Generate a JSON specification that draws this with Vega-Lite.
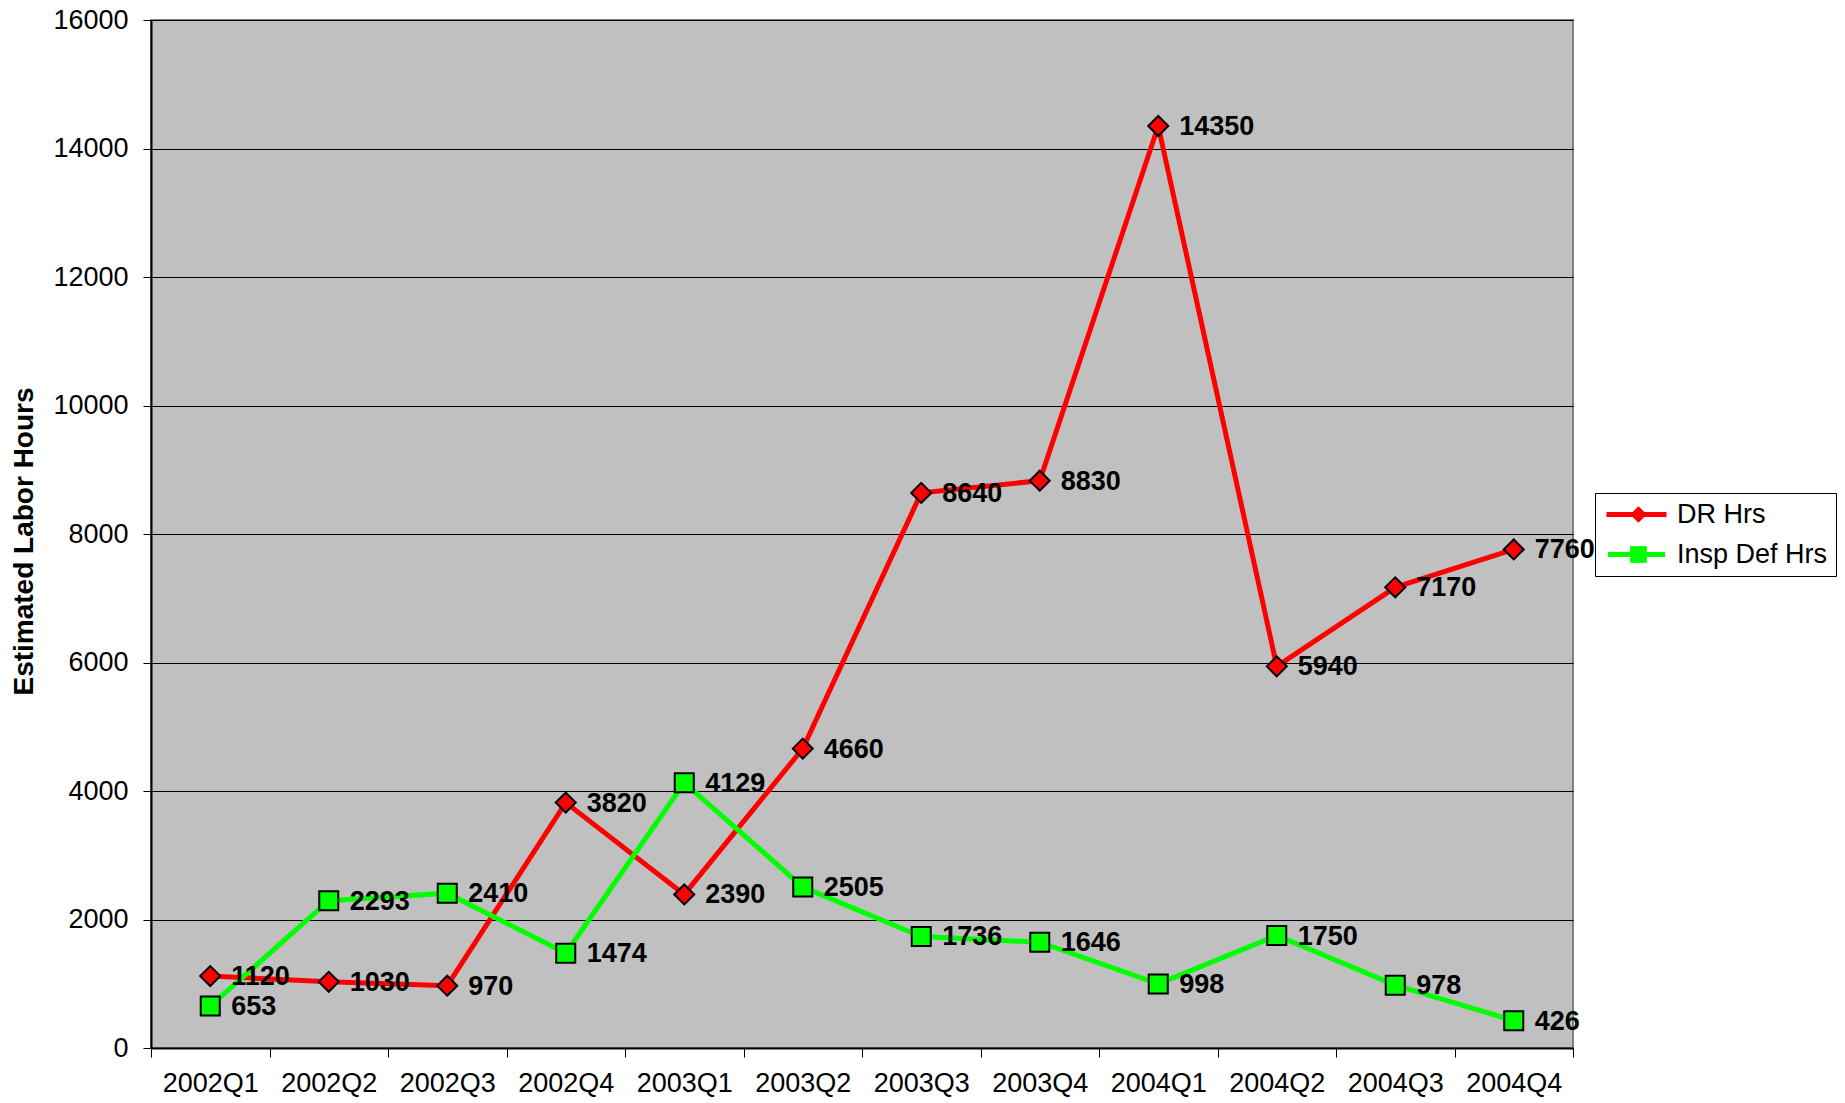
{
  "$schema": "https://vega.github.io/schema/vega-lite/v6.json",
  "width": 1422,
  "height": 1028,
  "autosize": {"type": "none"},
  "padding": {"left": 151, "top": 20, "right": 272, "bottom": 55},
  "background": "white",
  "config": {
    "font": "Liberation Sans",
    "view": {"fill": "#C0C0C0", "stroke": "#808080", "strokeWidth": 2}
  },
  "data": {
    "values": [
      {"quarter": "2002Q1", "series": "DR Hrs", "value": 1120},
      {"quarter": "2002Q2", "series": "DR Hrs", "value": 1030},
      {"quarter": "2002Q3", "series": "DR Hrs", "value": 970},
      {"quarter": "2002Q4", "series": "DR Hrs", "value": 3820},
      {"quarter": "2003Q1", "series": "DR Hrs", "value": 2390},
      {"quarter": "2003Q2", "series": "DR Hrs", "value": 4660},
      {"quarter": "2003Q3", "series": "DR Hrs", "value": 8640},
      {"quarter": "2003Q4", "series": "DR Hrs", "value": 8830},
      {"quarter": "2004Q1", "series": "DR Hrs", "value": 14350},
      {"quarter": "2004Q2", "series": "DR Hrs", "value": 5940},
      {"quarter": "2004Q3", "series": "DR Hrs", "value": 7170},
      {"quarter": "2004Q4", "series": "DR Hrs", "value": 7760},
      {"quarter": "2002Q1", "series": "Insp Def Hrs", "value": 653},
      {"quarter": "2002Q2", "series": "Insp Def Hrs", "value": 2293},
      {"quarter": "2002Q3", "series": "Insp Def Hrs", "value": 2410},
      {"quarter": "2002Q4", "series": "Insp Def Hrs", "value": 1474},
      {"quarter": "2003Q1", "series": "Insp Def Hrs", "value": 4129},
      {"quarter": "2003Q2", "series": "Insp Def Hrs", "value": 2505},
      {"quarter": "2003Q3", "series": "Insp Def Hrs", "value": 1736},
      {"quarter": "2003Q4", "series": "Insp Def Hrs", "value": 1646},
      {"quarter": "2004Q1", "series": "Insp Def Hrs", "value": 998},
      {"quarter": "2004Q2", "series": "Insp Def Hrs", "value": 1750},
      {"quarter": "2004Q3", "series": "Insp Def Hrs", "value": 978},
      {"quarter": "2004Q4", "series": "Insp Def Hrs", "value": 426}
    ]
  },
  "encoding": {
    "x": {
      "field": "quarter", "type": "ordinal", "bandPosition": 0.5,
      "scale": {"type": "band", "paddingInner": 0, "paddingOuter": 0},
      "axis": {
        "title": null, "labelAngle": 0, "tickBand": "extent",
        "labelFontSize": 27, "labelColor": "black", "labelPadding": 13,
        "tickSize": 9, "tickColor": "black", "domainColor": "black", "domainWidth": 2,
        "grid": false
      }
    },
    "y": {
      "field": "value", "type": "quantitative",
      "scale": {"domain": [0, 16000], "nice": false},
      "axis": {
        "title": "Estimated Labor Hours", "titleFontSize": 28, "titleFontWeight": "bold", "titleColor": "black",
        "titleAngle": -90, "titleX": -127, "titleY": 521, "titleAlign": "center", "titleBaseline": "middle",
        "values": [0, 2000, 4000, 6000, 8000, 10000, 12000, 14000, 16000], "format": "d",
        "labelFontSize": 27, "labelColor": "black", "labelPadding": 15,
        "tickSize": 8, "tickColor": "black", "domainColor": "black", "domainWidth": 2,
        "grid": true, "gridColor": "black", "gridWidth": 1, "gridOpacity": 1
      }
    }
  },
  "layer": [
    {
      "mark": {"type": "line", "strokeWidth": 5},
      "encoding": {
        "stroke": {
          "field": "series", "type": "nominal",
          "scale": {"domain": ["DR Hrs", "Insp Def Hrs"], "range": ["#FF0000", "#00FF00"]},
          "legend": {
            "title": null, "orient": "none", "legendX": 1444, "legendY": 473, "zindex": 1,
            "symbolType": "M-3,0L3,0", "symbolSize": 415, "symbolStrokeWidth": 5,
            "symbolOffset": 20, "labelOffset": 27, "padding": 8, "rowPadding": 12,
            "labelFontSize": 27, "labelColor": "black", "labelFont": "Liberation Sans",
            "strokeColor": "black", "fillColor": "white"
          }
        }
      }
    },
    {
      "mark": {"type": "point", "filled": true, "stroke": "black", "strokeWidth": 2, "opacity": 1},
      "encoding": {
        "fill": {
          "field": "series", "type": "nominal",
          "scale": {"domain": ["DR Hrs", "Insp Def Hrs"], "range": ["#FF0000", "#00FF00"]},
          "legend": {
            "title": null, "orient": "right", "offset": -429, "zindex": 2,
            "symbolSize": 280, "symbolStrokeColor": "black", "symbolStrokeWidth": 2,
            "symbolOffset": 0, "labelOffset": 0, "padding": 481, "rowPadding": 12,
            "labelFontSize": 27, "labelExpr": "''", "labelFont": "Liberation Sans",
            "symbolOpacity": 1
          }
        },
        "shape": {
          "field": "series", "type": "nominal",
          "scale": {"domain": ["DR Hrs", "Insp Def Hrs"], "range": ["diamond", "square"]},
          "legend": {
            "title": null, "orient": "right", "offset": -429, "zindex": 2,
            "symbolSize": 280, "symbolStrokeColor": "black", "symbolStrokeWidth": 2,
            "symbolOffset": 0, "labelOffset": 0, "padding": 481, "rowPadding": 12,
            "labelFontSize": 27, "labelExpr": "''", "labelFont": "Liberation Sans",
            "symbolOpacity": 1
          }
        },
        "size": {
          "field": "series", "type": "nominal",
          "scale": {"domain": ["DR Hrs", "Insp Def Hrs"], "range": [400, 361]},
          "legend": null
        }
      }
    },
    {
      "mark": {"type": "text", "align": "left", "baseline": "middle", "dx": 21, "dy": 1, "fontSize": 27, "fontWeight": "bold", "color": "black"},
      "encoding": {
        "text": {"field": "value", "type": "quantitative"}
      }
    }
  ]
}
